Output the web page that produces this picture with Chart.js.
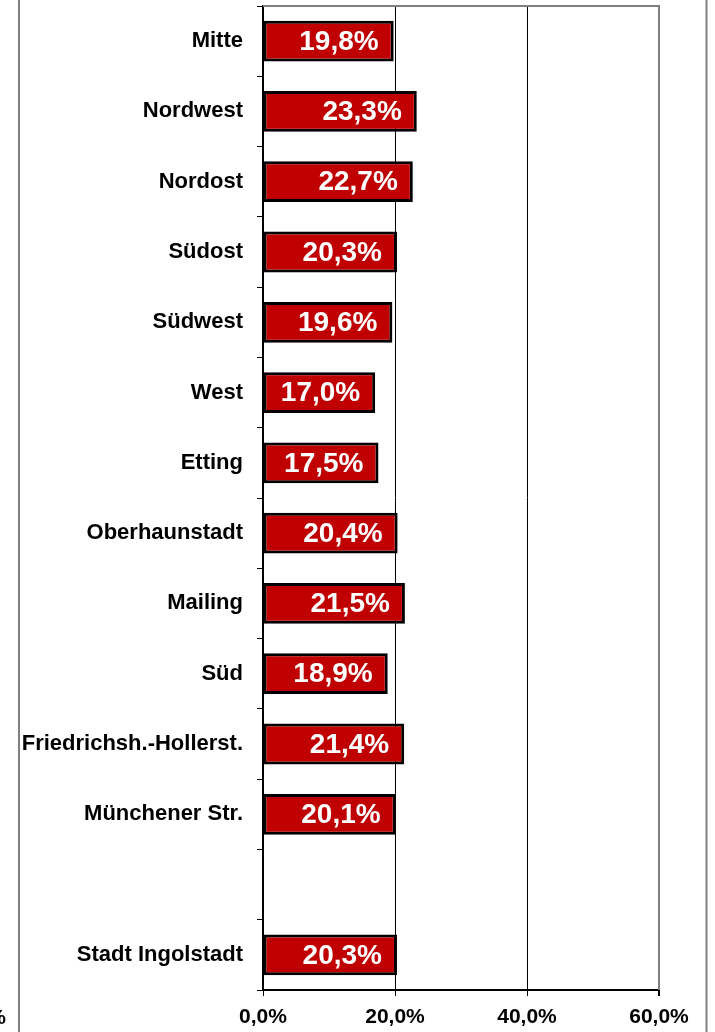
<!DOCTYPE html>
<html lang="de">
<head>
    <meta charset="UTF-8">
    <title>Anteil nach Stadtbezirk</title>
    <script src="https://cdn.jsdelivr.net/npm/chart.js"></script>
    <style>
        body {
            margin: 0;
            background: #fff;
            overflow: hidden;
        }
        #chart {
            display: block;
        }
    </style>
</head>
<body>
    <canvas id="chart" width="715" height="1032"></canvas>

    <script>
        // data
        const districts = ["Mitte", "Nordwest", "Nordost", "Südost", "Südwest", "West", "Etting",
            "Oberhaunstadt", "Mailing", "Süd", "Friedrichsh.-Hollerst.", "Münchener Str.", "", "Stadt Ingolstadt"];
        const shares = [19.8, 23.3, 22.7, 20.3, 19.6, 17.0, 17.5, 20.4, 21.5, 18.9, 21.4, 20.1, null, 20.3];
        const xTicks = [0, 20, 40, 60];

        const FONT = "'Liberation Sans', Arial, sans-serif";
        const fmt = v => v.toFixed(1).replace(".", ",") + "%";

        // value labels, frame lines and top/right plot border
        const extras = {
            id: "extras",
            beforeDraw(chart) {
                const c = chart.ctx;
                c.save();
                c.strokeStyle = "#808080";
                c.lineWidth = 2;
                c.beginPath();
                c.moveTo(19, 0); c.lineTo(19, chart.height);
                c.moveTo(706.5, 0); c.lineTo(706.5, chart.height);
                c.stroke();
                // cut-off label of the neighbouring chart
                c.fillStyle = "#000";
                c.font = "bold 21px " + FONT;
                c.textAlign = "right";
                c.textBaseline = "middle";
                c.fillText("0,0%", 6, 1018);
                c.restore();
            },
            afterDatasetsDraw(chart) {
                const c = chart.ctx;
                const a = chart.chartArea;
                c.save();
                c.strokeStyle = "#808080";
                c.lineWidth = 2;
                c.beginPath();
                c.moveTo(a.left, a.top);
                c.lineTo(a.right, a.top);
                c.lineTo(a.right, a.bottom);
                c.stroke();

                c.fillStyle = "#fff";
                c.font = "bold 28px " + FONT;
                c.textAlign = "right";
                c.textBaseline = "middle";
                chart.getDatasetMeta(0).data.forEach((bar, i) => {
                    if (shares[i] == null) return;
                    c.fillText(fmt(shares[i]), bar.x - 15, bar.y + 1);
                });
                c.restore();
            }
        };

        new Chart(document.getElementById("chart"), {
            type: "bar",
            data: {
                labels: districts,
                datasets: [{
                    data: shares,
                    backgroundColor: "#c00000",
                    borderColor: "#000",
                    borderWidth: 3,
                    borderSkipped: false,
                    barPercentage: 0.58,
                    categoryPercentage: 1
                }]
            },
            options: {
                indexAxis: "y",
                responsive: false,
                animation: false,
                layout: { padding: { left: 0, top: 6, right: 56, bottom: 0 } },
                plugins: {
                    legend: { display: false },
                    tooltip: { enabled: false }
                },
                scales: {
                    x: {
                        min: 0,
                        max: 60,
                        afterBuildTicks: s => { s.ticks = xTicks.map(v => ({ value: v })); },
                        afterFit: s => { s.height = 42; s.paddingLeft = 0; s.paddingRight = 0; },
                        ticks: {
                            color: "#000",
                            padding: 9,
                            maxRotation: 0,
                            font: { family: FONT, size: 21, weight: "bold" },
                            callback: v => fmt(v)
                        },
                        grid: {
                            color: ctx => ctx.tick && ctx.tick.value === 60 ? "#808080" : "#000",
                            lineWidth: ctx => ctx.tick && ctx.tick.value === 60 ? 2 : 1,
                            tickLength: 6,
                            tickColor: "#000"
                        },
                        border: { color: "#000", width: 2 }
                    },
                    y: {
                        afterFit: s => { s.width = 263; s.paddingTop = 0; s.paddingBottom = 0; },
                        ticks: {
                            color: "#000",
                            padding: 14,
                            font: { family: FONT, size: 22, weight: "bold" }
                        },
                        grid: {
                            offset: true,
                            drawOnChartArea: false,
                            tickLength: 6,
                            color: "#000"
                        },
                        border: { color: "#000", width: 2 }
                    }
                }
            },
            plugins: [extras]
        });
    </script>
</body>
</html>
